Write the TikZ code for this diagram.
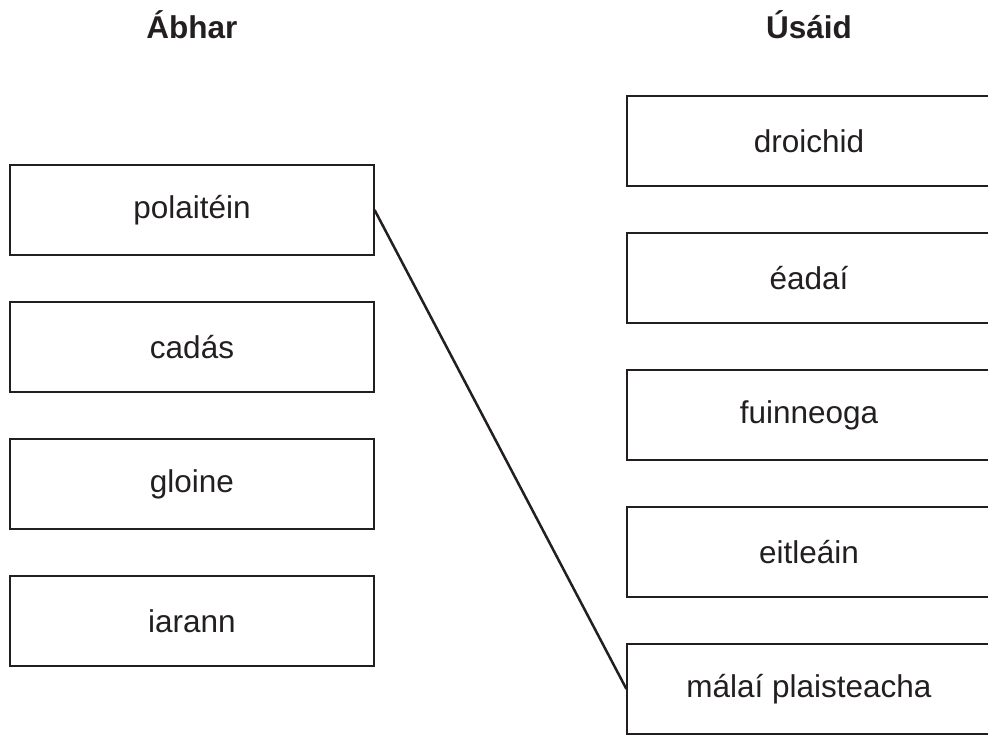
\documentclass[tikz,border=0pt]{standalone}
\usepackage{fontspec}
\setmainfont{Liberation Sans}
\usepackage{tikz}
\usetikzlibrary{positioning}
\definecolor{ink}{HTML}{231F20}

\begin{document}
\begin{tikzpicture}[x=1pt, y=-1pt, node distance=137pt]
% Abhar -> Usaid, one line drawn
\tikzstyle{heading} = [anchor=base, text=ink, font=\fontsize{31.5}{38}\selectfont\bfseries]
\tikzstyle{box} = [rectangle, minimum width=364pt, minimum height=90pt, text centered, draw=ink, line width=1.2pt, text=ink, font=\fontsize{31.5}{38}\selectfont]
\tikzstyle{line} = [line width=2.5pt, draw=ink]
\useasboundingbox (0,0) rectangle (988,735);
% Headings
\node (abhar) [heading] at (192,39) {Ábhar};
\node (usaid) [heading] at (809,39) {Úsáid};
% Left column
\node (polaitein) [box] at (192,210) {polaitéin};
\node (cadas) [box, below of=polaitein] {cadás};
\node (gloine) [box, below of=cadas] {gloine};
\node (iarann) [box, below of=gloine] {iarann};
% Right column
\node (droichid) [box] at (809,141) {droichid};
\node (eadai) [box, below of=droichid] {éadaí};
\node (fuinneoga) [box, below of=eadai] {fuinneoga};
\node (eitleain) [box, below of=fuinneoga] {eitleáin};
\node (malai) [box, below of=eitleain] {málaí plaisteacha};

% Line
\draw [line] (polaitein.east) -- (malai.west);

\end{tikzpicture}
\end{document}
